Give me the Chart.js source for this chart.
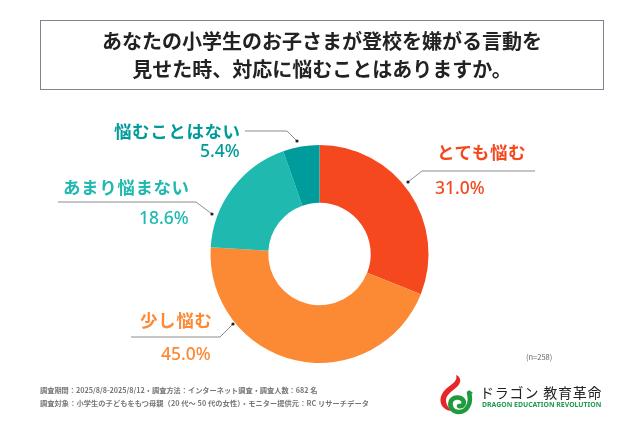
<!DOCTYPE html>
<html lang="ja">
<head>
<meta charset="utf-8">
<script src="https://cdn.jsdelivr.net/npm/chart.js@4"></script>
<style>
  html, body { margin: 0; padding: 0; background: #fff; }
  #stage { position: relative; width: 640px; height: 426px; overflow: hidden;
           font-family: "Noto Sans CJK JP", "Noto Sans", sans-serif; }
  #stage canvas { position: absolute; left: 0; top: 0; }
  .abs { position: absolute; white-space: nowrap; line-height: 1; }
  #title-box { position: absolute; left: 40px; top: 20px; width: 562px; height: 68px;
               border: 1.5px solid #7b8591; text-align: center; color: #222;
               font-size: 20px; font-weight: 700; line-height: 28px; }
  #title-box div:first-child { margin-top: 6px; }
  .cat { font-size: 17.5px; letter-spacing: 0.6px; font-weight: 700; }
  .pct { font-size: 17.5px; font-weight: 500; font-family: "Noto Sans", sans-serif; }
  .foot { font-size: 7.2px; color: #777; font-weight: 700; left: 40px; }
</style>
</head>
<body>
<div id="stage">
  <canvas id="donut" width="640" height="426"></canvas>
  <div id="title-box"><div>あなたの小学生のお子さまが登校を嫌がる言動を</div><div>見せた時、対応に悩むことはありますか。</div></div>
  <div class="abs" style="left:526px;top:353px;font-size:7.5px;color:#666">(n=258)</div>
  <div class="abs foot" style="top:387px">調査期間：2025/8/8-2025/8/12・調査方法：インターネット調査・調査人数：682 名</div>
  <div class="abs foot" style="top:400px;letter-spacing:0.1px">調査対象：小学生の子どもをもつ母親（20 代～ 50 代の女性）・モニター提供元：RC リサーチデータ</div>
  <svg class="abs" style="left:439px;top:374px" width="36" height="41" viewBox="0 0 36 41">
    <path d="M17 1 C19 7 13 10 8 14 C2 19 -1 27 4 33 C7 36 10 37 13 37 C7 32 5 26 9 21 C13 16 20 13 21 8 C22 5 20 2 17 1 Z" fill="#e8262a"/>
    <path d="M30 19 C33 29 28 38 20 38 C13 38 10 32 12 27 C14 23 21 22 24 26 C26 29 24 33 20 32" fill="none" stroke="#1f9a3c" stroke-width="4.6" stroke-linecap="round"/>
    <path d="M29 22 L30 16 L34 19 Z" fill="#1f9a3c"/>
  </svg>
  <div class="abs" style="left:480px;top:385px;font-size:14px;letter-spacing:0.8px;color:#222">ドラゴン 教育革命</div>
  <div class="abs" style="left:482px;top:401.5px;font-size:6.9px;font-weight:700;color:#1f9a50;font-family:'Noto Sans',sans-serif">DRAGON EDUCATION REVOLUTION</div>
</div>
<script>
'use strict';

// ── Data ─────────────────────────────────────────────────────────────────────
const categories = ['とても悩む', '少し悩む', 'あまり悩まない', '悩むことはない'];
const shares     = [31.0, 45.0, 18.6, 5.4];
const colors     = ['#F5481F', '#FC8A35', '#1FB9AF', '#009B9B'];

// ── Label placement (one entry per category) ─────────────────────────────────
const labelPos = [
  { catX: 437, catY: 143, pctX: 435, pctY: 179 },
  { catX: 140, catY: 311, pctX: 161, pctY: 345 },
  { catX: 63,  catY: 178, pctX: 139, pctY: 209 },
  { catX: 114, catY: 122, pctX: 200, pctY: 142 },
];
const leaders = [
  [[408, 182], [422, 171], [535, 171]],
  [[233, 324], [220, 337], [131, 337]],
  [[212, 214], [196, 202], [58, 202]],
  [[297, 141], [287, 131], [245, 131]],
];

// ── Leader lines ─────────────────────────────────────────────────────────────
const leaderPlugin = {
  id: 'leaders',
  afterDraw(chart) {
    const c = chart.ctx;
    c.save();
    c.strokeStyle = '#8c8c8c';
    c.lineWidth = 1;
    leaders.forEach(pts => {
      c.beginPath();
      pts.forEach(([x, y], i) => (i ? c.lineTo(x, y) : c.moveTo(x, y)));
      c.stroke();
      c.fillStyle = '#222';
      c.beginPath();
      c.arc(pts[0][0], pts[0][1], 1.6, 0, Math.PI * 2);
      c.fill();
    });
    c.restore();
  },
};

// ── Chart ────────────────────────────────────────────────────────────────────
new Chart(document.getElementById('donut'), {
  type: 'doughnut',
  data: {
    labels: categories,
    datasets: [{ data: shares, backgroundColor: colors, borderWidth: 0 }],
  },
  options: {
    responsive: false,
    animation: false,
    devicePixelRatio: 1,
    cutout: '47%',
    layout: { padding: { left: 210, right: 211, top: 145, bottom: 63 } },
    plugins: { legend: { display: false }, tooltip: { enabled: false } },
  },
  plugins: [leaderPlugin],
});

// ── Text labels ──────────────────────────────────────────────────────────────
const stage = document.getElementById('stage');
categories.forEach((name, i) => {
  const p = labelPos[i];
  const cat = document.createElement('div');
  cat.className = 'abs cat';
  cat.textContent = name;
  cat.style.cssText = `left:${p.catX}px;top:${p.catY}px;color:${colors[i]}`;
  const pct = document.createElement('div');
  pct.className = 'abs pct';
  pct.textContent = shares[i].toFixed(1) + '%';
  pct.style.cssText = `left:${p.pctX}px;top:${p.pctY}px;color:${colors[i]}`;
  stage.append(cat, pct);
});
</script>
</body>
</html>
